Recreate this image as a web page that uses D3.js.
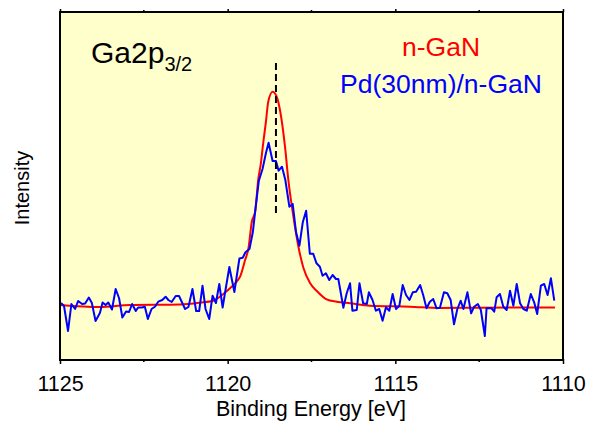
<!DOCTYPE html>
<html>
<head>
<meta charset="utf-8">
<script src="https://cdn.jsdelivr.net/npm/d3@7"></script>
<style>
  body { margin: 0; background: #fff; }
  text { font-family: "Liberation Sans", Arial, sans-serif; }
</style>
</head>
<body>
<script>
// Ga2p3/2 XPS spectra, binding energy (eV) vs intensity (arb. units)
const redEnergy = [1125.00, 1123.81, 1122.91, 1121.42, 1120.83, 1120.43, 1120.13, 1119.93, 1119.73, 1119.63,
  1119.48, 1119.38, 1119.28, 1119.18, 1119.09, 1119.01, 1118.94, 1118.86, 1118.79, 1118.66,
  1118.52, 1118.44, 1118.29, 1118.19, 1118.04, 1117.89, 1117.74, 1117.54, 1117.34, 1117.05,
  1116.75, 1116.35, 1115.76, 1114.56, 1113.67, 1112.48, 1110.24];
const redIntensity = [55, 53, 55, 55.5, 57.3, 59.3, 66, 71.7, 78.3, 83.3,
  100, 111.7, 138.3, 148.3, 180, 196.7, 217, 238, 258.3, 268.3,
  261.7, 250, 213.3, 180, 143.3, 113.3, 92, 76.7, 69, 60.7,
  58.3, 56.7, 54.3, 53.3, 52, 52.3, 52.5];

const blueEnergy = [1124.97, 1124.88, 1124.76, 1124.66, 1124.55, 1124.46, 1124.34, 1124.25, 1124.14, 1124.05,
  1123.94, 1123.81, 1123.73, 1123.64, 1123.56, 1123.45, 1123.34, 1123.24, 1123.14, 1123.03,
  1122.94, 1122.85, 1122.74, 1122.67, 1122.56, 1122.47, 1122.38, 1122.27, 1122.17, 1122.07,
  1121.95, 1121.85, 1121.77, 1121.67, 1121.55, 1121.45, 1121.27, 1121.17, 1121.05, 1120.94,
  1120.85, 1120.75, 1120.66, 1120.55, 1120.45, 1120.35, 1120.25, 1120.15, 1120.06, 1119.95,
  1119.80, 1119.65, 1119.55, 1119.47, 1119.35, 1119.25, 1119.16, 1119.07, 1118.96, 1118.86,
  1118.78, 1118.66, 1118.56, 1118.48, 1118.38, 1118.28, 1118.16, 1118.06, 1117.96, 1117.86,
  1117.76, 1117.66, 1117.55, 1117.45, 1117.35, 1117.25, 1117.17, 1117.07, 1116.97, 1116.87,
  1116.77, 1116.70, 1116.55, 1116.45, 1116.35, 1116.28, 1116.15, 1116.07, 1115.96, 1115.85,
  1115.79, 1115.68, 1115.58, 1115.48, 1115.38, 1115.28, 1115.18, 1115.08, 1114.98, 1114.88,
  1114.78, 1114.68, 1114.58, 1114.48, 1114.38, 1114.26, 1114.17, 1114.07, 1113.97, 1113.87,
  1113.77, 1113.67, 1113.55, 1113.45, 1113.35, 1113.25, 1113.15, 1113.05, 1112.97, 1112.85,
  1112.74, 1112.65, 1112.54, 1112.45, 1112.33, 1112.28, 1112.13, 1112.05, 1111.98, 1111.88,
  1111.78, 1111.68, 1111.58, 1111.48, 1111.38, 1111.28, 1111.18, 1111.08, 1110.96, 1110.86,
  1110.77, 1110.66, 1110.56, 1110.46, 1110.36, 1110.26];
const blueIntensity = [57, 54, 29, 56, 51, 59, 56, 56.5, 62.5, 57,
  39, 47, 57.5, 55, 57.5, 50.5, 71, 62, 42.5, 48.5,
  48, 56, 49, 52.5, 52.5, 53.3, 41, 51, 53.3, 58.3,
  60, 63.3, 60, 58, 64, 64, 51, 53, 71, 49,
  49, 74.3, 51, 41, 64.3, 57, 76, 52.5, 71, 93,
  68, 101.5, 102.3, 107.7, 111, 127.7, 154.3, 179.3, 191, 206.7,
  217.3, 199, 199, 189.3, 193.3, 180, 153.3, 156, 127.7, 114.3,
  137.7, 149.3, 106.3, 106.3, 96.7, 93.3, 84.3, 86.7, 80, 85,
  81, 81, 52.3, 66.7, 76.7, 49.3, 50, 76.7, 56.7, 56,
  67.7, 60, 49.3, 51, 39.3, 52.7, 49.3, 66, 51, 54.3,
  75, 65, 60, 67.7, 68.3, 75, 65, 51.7, 58.3, 61,
  51.7, 52.3, 67.7, 66.7, 60, 35.7, 51, 59.3, 51, 67.7,
  46.7, 53.3, 56, 50, 24, 51.7, 51.7, 48.3, 62.7, 66,
  53.3, 50, 69.3, 54.3, 76, 56.7, 51, 49.3, 66, 57.7,
  46, 74.3, 76, 65, 81.7, 59.3];

const peakEnergy = 1118.56;
const peakMarkerRange = [147, 297];
const majorTicks = [1125, 1120, 1115, 1110];
const minorTicks = [1122.5, 1117.5, 1112.5];
const seriesNames = ["n-GaN", "Pd(30nm)/n-GaN"];

const width = 590, height = 423;
const margin = { left: 60, right: 27, top: 12, bottom: 63 };

const svg = d3.select("body").append("svg")
    .attr("width", width)
    .attr("height", height);

const x = d3.scaleLinear().domain([1125, 1110]).range([margin.left, width - margin.right]);
const y = d3.scaleLinear().domain([0, 348]).range([height - margin.bottom, margin.top]);

// plot background
svg.append("rect")
    .attr("x", x(1125)).attr("y", y(348))
    .attr("width", x(1110) - x(1125)).attr("height", y(0) - y(348))
    .attr("fill", "#ffffcc");

const red = redEnergy.map((e, i) => [e, redIntensity[i]]);
const blue = blueEnergy.map((e, i) => [e, blueIntensity[i]]);

const line = d3.line().x(d => x(d[0])).y(d => y(d[1]));

svg.append("path").datum(red)
    .attr("d", line.curve(d3.curveMonotoneX))
    .attr("fill", "none").attr("stroke", "#ff0000").attr("stroke-width", 2);

svg.append("path").datum(blue)
    .attr("d", line.curve(d3.curveLinear))
    .attr("fill", "none").attr("stroke", "#0000ff").attr("stroke-width", 2)
    .attr("stroke-linejoin", "round");

// dashed peak marker
svg.append("line")
    .attr("x1", x(peakEnergy)).attr("x2", x(peakEnergy))
    .attr("y1", y(peakMarkerRange[1])).attr("y2", y(peakMarkerRange[0]))
    .attr("stroke", "#000").attr("stroke-width", 2)
    .attr("stroke-dasharray", "7,4");

// frame
svg.append("rect")
    .attr("x", x(1125)).attr("y", y(348))
    .attr("width", x(1110) - x(1125)).attr("height", y(0) - y(348))
    .attr("fill", "none").attr("stroke", "#000").attr("stroke-width", 2);

// bottom axis, top axis mirror ticks
const xAxisBottom = svg.append("g").attr("transform", `translate(0,${y(0)})`);
xAxisBottom.call(d3.axisBottom(x).tickValues(majorTicks).tickSize(4).tickFormat(d3.format("d")))
    .call(g => g.select(".domain").remove())
    .call(g => g.selectAll(".tick line").attr("stroke-width", 1.5).attr("y1", -1))
    .call(g => g.selectAll(".tick text")
        .attr("y", 31).attr("dy", 0)
        .attr("font-size", 21.5).attr("fill", "#000")
        .style("font-family", "'Liberation Sans', Arial, sans-serif"));
xAxisBottom.selectAll(".minor").data(minorTicks).enter().append("line")
    .attr("x1", d => x(d)).attr("x2", d => x(d))
    .attr("y1", -1).attr("y2", 2)
    .attr("stroke", "#000").attr("stroke-width", 1.5);

const xAxisTop = svg.append("g").attr("transform", `translate(0,${y(348)})`);
xAxisTop.call(d3.axisTop(x).tickValues(majorTicks).tickSize(3).tickFormat(""))
    .call(g => g.select(".domain").remove())
    .call(g => g.selectAll(".tick line").attr("stroke-width", 1.5));
xAxisTop.selectAll(".minor").data(minorTicks).enter().append("line")
    .attr("x1", d => x(d)).attr("x2", d => x(d))
    .attr("y1", 0).attr("y2", -2)
    .attr("stroke", "#000").attr("stroke-width", 1.5);

// axis titles
svg.append("text")
    .attr("x", 311).attr("y", 416)
    .attr("text-anchor", "middle")
    .attr("font-size", 21.5)
    .text("Binding Energy [eV]");

svg.append("text")
    .attr("transform", "translate(29,188) rotate(-90)")
    .attr("text-anchor", "middle")
    .attr("font-size", 20)
    .text("Intensity");

// peak label
const peakLabel = svg.append("text")
    .attr("x", 91).attr("y", 63)
    .attr("font-size", 30);
peakLabel.append("tspan").text("Ga2p");
peakLabel.append("tspan").attr("font-size", 20).attr("dy", 8).text("3/2");

// legend as coloured text
const legendColors = ["#ff0000", "#0000ff"];
svg.selectAll(".legend").data(seriesNames).enter().append("text")
    .attr("class", "legend")
    .attr("x", 441)
    .attr("y", (d, i) => 55.5 + i * 37)
    .attr("text-anchor", "middle")
    .attr("font-size", 26.5)
    .attr("fill", (d, i) => legendColors[i])
    .text(d => d);
</script>
</body>
</html>
